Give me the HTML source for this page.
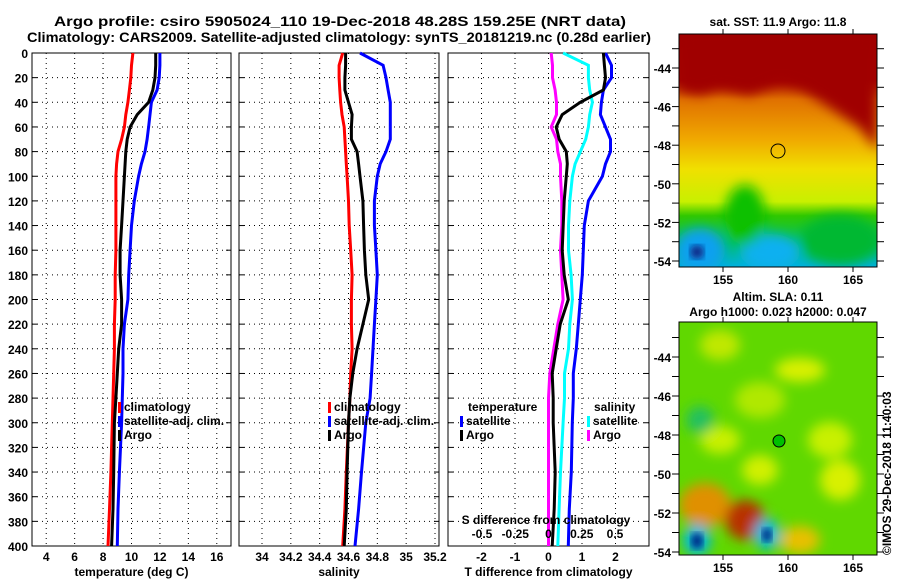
<!DOCTYPE html>
<html><head><meta charset="utf-8"><style>
body{margin:0;background:#fff;width:900px;height:580px;overflow:hidden}
svg text{font-family:"Liberation Sans",sans-serif;font-weight:bold;fill:#000}
</style></head><body>
<svg id="chart" width="900" height="580" viewBox="0 0 900 580" xmlns="http://www.w3.org/2000/svg">
<defs>
<filter id="blur4"><feGaussianBlur stdDeviation="4"/></filter>
<filter id="blur6"><feGaussianBlur stdDeviation="6"/></filter>
<clipPath id="clip1"><rect x="679" y="34" width="198" height="233"/></clipPath>
<clipPath id="clip2"><rect x="679" y="322" width="198" height="233"/></clipPath>
<linearGradient id="sstGrad" x1="0" y1="0" x2="0" y2="1">
<stop offset="0" stop-color="#a00000"/><stop offset="0.2" stop-color="#a80500"/>
<stop offset="0.28" stop-color="#e07000"/><stop offset="0.45" stop-color="#f0a800"/>
<stop offset="0.58" stop-color="#f0e000"/><stop offset="0.72" stop-color="#c8f000"/>
<stop offset="0.78" stop-color="#30c800"/><stop offset="0.9" stop-color="#00c060"/>
<stop offset="1" stop-color="#00b0e0"/></linearGradient>
</defs>
<text x="54" y="26" font-size="14" textLength="572" lengthAdjust="spacingAndGlyphs">Argo profile: csiro 5905024_110 19-Dec-2018 48.28S 159.25E (NRT data)</text>
<text x="27" y="42" font-size="14" textLength="624" lengthAdjust="spacingAndGlyphs">Climatology: CARS2009. Satellite-adjusted climatology: synTS_20181219.nc (0.28d earlier)</text>
<g id="panels"></g>

<g>
<text x="778" y="26" text-anchor="middle" font-size="12">sat. SST: 11.9 Argo: 11.8</text>
<g clip-path="url(#clip1)">
<rect x="679" y="34" width="198" height="233" fill="url(#sstGrad)"/>
<g filter="url(#blur6)">
<path d="M679 34 H877 V150 L860 128 L830 108 L800 88 L780 82 L750 95 L720 88 L700 95 L679 90 Z" fill="#a00000"/>
<ellipse cx="700" cy="250" rx="25" ry="22" fill="#10a0f0"/>
<ellipse cx="770" cy="252" rx="30" ry="18" fill="#10b0f0"/>
<ellipse cx="840" cy="240" rx="40" ry="25" fill="#00b830"/>
<ellipse cx="745" cy="215" rx="20" ry="30" fill="#10c000"/>
</g>
<ellipse cx="697" cy="252" rx="7" ry="7" fill="#102080" filter="url(#blur4)"/>
<circle cx="778" cy="151" r="7" fill="none" stroke="#000" stroke-width="1"/>
</g>
<rect x="679" y="34" width="198" height="233" fill="none" stroke="#000"/>
<g id="map1ticks"></g>
</g>

<g>
<text x="778" y="301" text-anchor="middle" font-size="12">Altim. SLA: 0.11</text>
<text x="778" y="316" text-anchor="middle" font-size="12">Argo h1000: 0.023 h2000: 0.047</text>
<g clip-path="url(#clip2)">
<rect x="679" y="322" width="198" height="233" fill="#60d800"/>
<g filter="url(#blur6)">
<ellipse cx="720" cy="345" rx="20" ry="15" fill="#c0e800"/>
<ellipse cx="800" cy="370" rx="25" ry="12" fill="#d8f000"/>
<ellipse cx="760" cy="400" rx="25" ry="18" fill="#b0e800"/>
<ellipse cx="830" cy="440" rx="22" ry="18" fill="#c8f000"/>
<ellipse cx="840" cy="480" rx="20" ry="20" fill="#d8f000"/>
<ellipse cx="720" cy="440" rx="20" ry="14" fill="#c8f000"/>
<ellipse cx="700" cy="420" rx="14" ry="14" fill="#20c060"/>
<ellipse cx="760" cy="470" rx="18" ry="15" fill="#d0f000"/>
<ellipse cx="705" cy="505" rx="26" ry="22" fill="#e09000"/>
<ellipse cx="745" cy="520" rx="20" ry="20" fill="#b83000"/>
<ellipse cx="800" cy="540" rx="20" ry="14" fill="#e8c000"/>
<ellipse cx="697" cy="540" rx="14" ry="16" fill="#00b8e0"/>
<ellipse cx="767" cy="534" rx="13" ry="16" fill="#00b8e0"/>
</g>
<ellipse cx="697" cy="541" rx="6" ry="8" fill="#002080" filter="url(#blur4)"/>
<ellipse cx="767" cy="535" rx="5" ry="7" fill="#002080" filter="url(#blur4)"/>
<circle cx="779" cy="441" r="6" fill="#00c000" stroke="#000" stroke-width="1"/>
</g>
<rect x="679" y="322" width="198" height="233" fill="none" stroke="#000"/>
<g id="map2ticks"></g>
</g>
<text transform="translate(891,555) rotate(-90)" font-size="12" font-weight="normal">©IMOS 29-Dec-2018 11:40:03</text>
</svg>
<script>
const depths=[0,10,20,30,40,50,60,70,80,90,100,120,140,160,180,200,220,240,260,280,300,340,370,400];
const depthTicks=[0,20,40,60,80,100,120,140,160,180,200,220,240,260,280,300,320,340,360,380,400];
const tempClim=[10.1,10.0,9.95,9.85,9.75,9.6,9.5,9.3,9.05,8.95,8.9,8.9,8.9,8.9,8.85,8.85,8.8,8.8,8.75,8.7,8.65,8.55,8.45,8.35];
const tempArgo=[11.7,11.7,11.65,11.5,11.2,10.4,9.9,9.7,9.6,9.55,9.5,9.4,9.3,9.2,9.2,9.3,9.3,9.1,9.0,8.9,8.8,8.75,8.7,8.6];
const tempSat=[12.0,12.0,11.95,11.8,11.4,11.3,11.2,11.1,10.95,10.7,10.5,10.2,10.0,9.9,9.8,9.75,9.5,9.4,9.4,9.35,9.3,9.15,9.05,9.0];
const salClim=[34.56,34.535,34.535,34.54,34.545,34.555,34.57,34.575,34.58,34.585,34.59,34.6,34.605,34.615,34.625,34.62,34.62,34.625,34.615,34.61,34.6,34.585,34.575,34.56];
const salArgo=[34.58,34.58,34.575,34.575,34.6,34.625,34.62,34.62,34.66,34.67,34.68,34.7,34.705,34.71,34.72,34.74,34.7,34.66,34.63,34.61,34.6,34.59,34.585,34.57];
const salSat=[34.68,34.84,34.86,34.875,34.89,34.89,34.89,34.89,34.86,34.82,34.8,34.78,34.78,34.79,34.8,34.79,34.78,34.77,34.76,34.75,34.72,34.69,34.67,34.645];
const dTSat=[1.70,1.88,1.88,1.64,1.58,1.55,1.70,1.85,1.85,1.70,1.61,1.19,1.07,1.04,1.01,0.95,0.89,0.83,0.74,0.74,0.71,0.68,0.62,0.59];
const dTArgo=[1.64,1.67,1.70,1.64,0.95,0.41,0.23,0.32,0.53,0.56,0.53,0.47,0.44,0.41,0.47,0.59,0.35,0.23,0.11,0.14,0.14,0.20,0.17,0.11];
const dSSat=[0.11,0.30,0.30,0.31,0.33,0.31,0.30,0.28,0.24,0.20,0.18,0.16,0.15,0.15,0.17,0.18,0.16,0.15,0.12,0.12,0.11,0.09,0.08,0.07];
const dSArgo=[0.02,0.03,0.03,0.05,0.06,0.06,0.02,0.06,0.07,0.09,0.09,0.10,0.10,0.09,0.10,0.11,0.07,0.04,0.01,0.00,0.00,0.00,0.00,0.00];
const tempTicks=[4,6,8,10,12,14,16];
const salTicks=[34,34.2,34.4,34.6,34.8,35,35.2];
const dTTicks=[-2,-1,0,1,2];
const dSTicks=[-0.5,-0.25,0,0.25,0.5];
const dSTickLabels=["-0.5","-0.25","0","0.25","0.5"];
const latTicks=[-44,-46,-48,-50,-52,-54];
const lonTicks=[155,160,165];

const NS="http://www.w3.org/2000/svg";
const Y0=53,Y1=546;
function yD(d){return Y0+(d/400)*(Y1-Y0);}
function mk(tag,attrs,parent){const e=document.createElementNS(NS,tag);for(const k in attrs)e.setAttribute(k,attrs[k]);parent.appendChild(e);return e;}
const G=document.getElementById('panels');
function linScale(a,b,p,q){return v=>p+(v-a)/(b-a)*(q-p);}
const panels=[
 {x0:32,x1:231,sx:linScale(3,17,32,231),ticks:tempTicks,labels:tempTicks.map(String),title:"temperature (deg C)",name:"temperature-panel"},
 {x0:239,x1:439,sx:linScale(34,35.2,262,435),ticks:salTicks,labels:salTicks.map(String),title:"salinity",name:"salinity-panel"},
 {x0:448,x1:649,sx:linScale(-3,3,448,649),ticks:dTTicks,labels:dTTicks.map(String),title:"T difference from climatology",name:"difference-panel"}
];
const sS=linScale(0,0.5,548.5,615);
function series(arr,sx,color,name){
 let d="";
 arr.forEach((v,i)=>{d+=(i?"L":"M")+sx(v).toFixed(1)+" "+yD(depths[i]).toFixed(1);});
 const p=mk('path',{d:d,fill:"none",stroke:color,"stroke-width":3},G);
 
 
}
panels.forEach((P,pi)=>{
 const g=mk('g',{},G);
 
 
 depthTicks.forEach(d=>{
  if(d>0&&d<400){const l=mk('line',{x1:P.x0,x2:P.x1,y1:yD(d),y2:yD(d),stroke:"#000","stroke-dasharray":"1 4","stroke-width":1},g);
  
  }
  mk('line',{x1:P.x0,x2:P.x0+5,y1:yD(d),y2:yD(d),stroke:"#000"},g);
  mk('line',{x1:P.x1-5,x2:P.x1,y1:yD(d),y2:yD(d),stroke:"#000"},g);
 });
 P.ticks.forEach((t,i)=>{
  const x=P.sx(t);
  const l=mk('line',{x1:x,x2:x,y1:Y0,y2:Y1,stroke:"#000","stroke-dasharray":"1 4"},g);
  
  
  const tx=mk('text',{x:x,y:561,"text-anchor":"middle","font-size":12},g);
  tx.textContent=P.labels[i];
  
  
 });
 const r=mk('rect',{x:P.x0,y:Y0,width:P.x1-P.x0,height:Y1-Y0,fill:"none",stroke:"#000","stroke-width":1},g);
 
 
 const tt=mk('text',{x:(P.x0+P.x1)/2,y:576,"text-anchor":"middle","font-size":12},g);
 tt.textContent=P.title;
 
 
});
depthTicks.forEach(d=>{
 const t=mk('text',{x:28,y:yD(d)+5,"text-anchor":"end","font-size":12},G);
 t.textContent=String(d);
 
 
});
const p1=panels[0].sx,p2=panels[1].sx,p3=panels[2].sx;
series(tempClim,p1,"#ff0000","temp-climatology-line");
series(tempSat,p1,"#0000ff","temp-satellite-line");
series(tempArgo,p1,"#000000","temp-argo-line");
series(salClim,p2,"#ff0000","sal-climatology-line");
series(salSat,p2,"#0000ff","sal-satellite-line");
series(salArgo,p2,"#000000","sal-argo-line");
series(dSArgo,sS,"#ff00ff","dS-argo-line");
series(dSSat,sS,"#00ffff","dS-satellite-line");
series(dTSat,p3,"#0000ff","dT-satellite-line");
series(dTArgo,p3,"#000000","dT-argo-line");
dSTicks.forEach((t,i)=>{
 const tx=mk('text',{x:sS(t),y:538,"text-anchor":"middle","font-size":12},G);
 tx.textContent=dSTickLabels[i];
 
 
});
const sl=mk('text',{x:546,y:524,"text-anchor":"middle","font-size":12},G);
sl.textContent="S difference from climatology";


function legendItem(x,y,color,label){
 const g=mk('g',{},G);
 
 
 mk('rect',{x:x,y:y-9,width:3,height:11,fill:color},g);
 const t=mk('text',{x:x+6,y:y,"font-size":12},g);t.textContent=label;
}
legendItem(118,411,"#ff0000","climatology");
legendItem(118,425,"#0000ff","satellite-adj. clim.");
legendItem(118,439,"#000000","Argo");
legendItem(328,411,"#ff0000","climatology");
legendItem(328,425,"#0000ff","satellite-adj. clim.");
legendItem(328,439,"#000000","Argo");
const lt=mk('text',{x:468,y:411,"font-size":12},G);lt.textContent="temperature";


legendItem(460,425,"#0000ff","satellite");
legendItem(460,439,"#000000","Argo");
const ls=mk('text',{x:594,y:411,"font-size":12},G);ls.textContent="salinity";


legendItem(587,425,"#00ffff","satellite");
legendItem(587,439,"#ff00ff","Argo");

function mapTicks(id,top,bottom,latY0,latStep){
 const g=document.getElementById(id);
 const lonX=v=>723+(v-155)*13;
 const latY=v=>latY0+(-44-v)*latStep;
 for(let la=-43;la>=-54;la--){
  const y=latY(la);
  if(y>top&&y<bottom){mk('line',{x1:672,x2:679,y1:y,y2:y,stroke:"#000"},g);mk('line',{x1:877,x2:884,y1:y,y2:y,stroke:"#000"},g);}
 }
 latTicks.forEach(la=>{
  const t=mk('text',{x:671,y:latY(la)+5,"text-anchor":"end","font-size":12},g);
  t.textContent=String(la);
  
  
 });
 lonTicks.forEach(lo=>{
  mk('line',{x1:lonX(lo),x2:lonX(lo),y1:bottom,y2:bottom+5,stroke:"#000"},g);
  mk('line',{x1:lonX(lo),x2:lonX(lo),y1:top-5,y2:top,stroke:"#000"},g);
  const t=mk('text',{x:lonX(lo),y:bottom+17,"text-anchor":"middle","font-size":12},g);
  t.textContent=String(lo);
  
  
 });
}
mapTicks('map1ticks',34,267,68,19.3);
mapTicks('map2ticks',322,555,357,19.5);
</script>
</body></html>
